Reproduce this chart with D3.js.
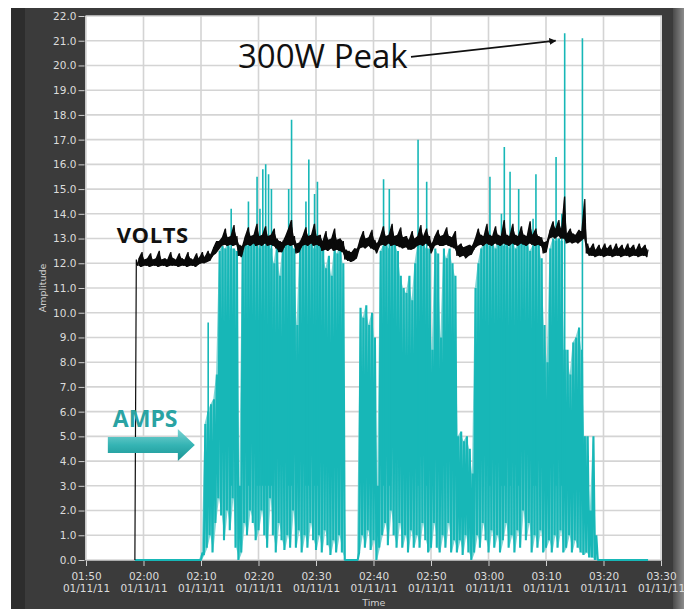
<!DOCTYPE html>
<html><head><meta charset="utf-8">
<script src="https://cdn.jsdelivr.net/npm/d3@7"></script>
<style>html,body{margin:0;padding:0;background:#fff;} svg{display:block}</style>
</head><body><svg id="c" width="693" height="609"></svg>
<script>
// ---------------- DATA ----------------
const xTickLabels = ["01:50","02:00","02:10","02:20","02:30","02:40","02:50","03:00","03:10","03:20","03:30"];
const dateLabel = "01/11/11";
const yTicks = [0,1,2,3,4,5,6,7,8,9,10,11,12,13,14,15,16,17,18,19,20,21,22];
const sampleStart = "01/11/11 01:58:30";   // first logged sample
const sampleStepSec = 30;                  // one [min,max] pair per 30 s
// VOLTS: [min, max] per 30 s
const volts = [
 [0,12.15],[11.9,12.2],[11.85,12.45],[11.9,12.15],[11.9,12.2],[11.85,12.4],[11.9,12.15],[11.9,12.2],[11.85,12.5],[11.9,12.15],
 [11.9,12.2],[11.85,12.15],[11.9,12.45],[11.9,12.2],[11.9,12.15],[11.85,12.4],[11.9,12.2],[11.9,12.15],[11.85,12.45],[11.9,12.2],
 [11.9,12.15],[11.85,12.4],[11.95,12.2],[12.0,12.45],[12.0,12.25],[12.05,12.5],[12.1,12.35],
 [12.3,12.65],[12.4,12.9],[12.55,12.9],
 [12.7,13.05],[12.75,13.4],[12.7,13.05],[12.75,13.1],[12.7,13.55],[12.75,13.1],
 [12.3,12.75],[12.25,12.7],
 [12.7,13.1],[12.75,13.45],[12.7,13.1],[12.8,13.15],[12.7,13.6],[12.75,13.1],[12.7,13.15],[12.8,13.5],[12.7,13.1],[12.75,13.15],[12.7,13.4],[12.6,13.0],
 [12.45,12.9],[12.45,12.85],
 [12.7,13.1],[12.75,13.4],[12.7,13.75],[12.75,13.1],
 [12.4,12.8],[12.45,12.85],
 [12.7,13.1],[12.75,13.45],[12.7,13.1],[12.8,13.15],[12.7,13.6],[12.75,13.1],[12.7,13.15],
 [12.5,12.9],[12.55,13.3],[12.5,12.95],[12.6,13.0],[12.5,13.4],[12.55,12.95],[12.5,13.0],[12.45,12.9],
 [12.15,12.55],[12.1,12.5],[12.05,12.45],[12.1,12.6],[12.2,12.6],
 [12.6,13.0],[12.65,13.3],[12.6,13.0],[12.7,13.05],[12.6,13.35],[12.55,12.95],
 [12.4,12.8],
 [12.7,13.1],[12.75,13.5],[12.7,13.1],[12.8,13.15],[12.7,13.6],[12.75,13.1],[12.7,13.15],[12.65,13.45],[12.6,13.05],[12.65,13.1],
 [12.55,12.95],[12.55,13.3],[12.6,13.0],
 [12.7,13.1],[12.75,13.55],[12.7,13.1],[12.8,13.4],[12.7,13.1],
 [12.4,12.8],
 [12.7,13.1],[12.75,13.35],[12.7,13.1],[12.7,13.15],[12.75,13.45],[12.7,13.1],[12.65,13.05],[12.6,13.3],
 [12.3,12.7],[12.25,12.8],[12.3,12.65],[12.2,12.7],[12.3,12.75],[12.35,12.7],
 [12.6,13.0],[12.7,13.4],[12.75,13.15],[12.7,13.1],[12.8,13.6],[12.75,13.15],[12.7,13.1],[12.8,13.5],[12.75,13.15],[12.7,13.1],
 [12.8,13.75],[12.75,13.15],[12.7,13.1],[12.8,13.6],[12.75,13.15],[12.7,13.1],[12.8,13.5],[12.75,13.15],[12.7,13.1],[12.8,13.7],
 [12.75,13.15],[12.7,13.4],[12.75,13.1],[12.7,13.05],
 [12.4,12.85],[12.45,12.9],
 [13.0,13.35],[13.05,13.7],[13.0,13.4],[13.1,13.75],[13.0,13.4],
 [13.0,14.7],
 [12.8,13.2],[12.85,13.4],[12.8,13.2],[12.85,13.15],[12.8,13.35],[12.9,13.3],
 [13.0,14.6],
 [12.4,12.8],[12.3,12.6],[12.3,12.8],[12.25,12.55],[12.3,12.75],[12.3,12.55],[12.25,12.8],[12.3,12.6],[12.3,12.75],[12.25,12.55],
 [12.3,12.8],[12.3,12.6],[12.25,12.75],[12.3,12.55],[12.3,12.8],[12.25,12.6],[12.3,12.75],[12.3,12.55],[12.25,12.8],[12.3,12.6],
 [12.3,12.75],[12.25,12.55]
];
// AMPS: [min, max of the dense body] per 30 s
const amps = [
 [0,0],[0,0],[0,0],[0,0],[0,0],[0,0],[0,0],[0,0],[0,0],[0,0],
 [0,0],[0,0],[0,0],[0,0],[0,0],[0,0],[0,0],[0,0],[0,0],[0,0],
 [0,0],[0,0],[0,0],
 [0,0.3],[0.2,5.5],[0.5,6.0],[1.0,6.3],[0.3,6.5],[1.5,7.5],[2.5,12.5],[1.8,12.7],[0.8,12.6],[2.0,12.8],
 [1.2,12.6],[2.5,12.6],[0.5,12.5],[0,3.0],[0.3,12.5],[1.5,13.0],[1.0,12.7],[2.0,12.9],[1.5,13.0],[0.8,12.8],
 [1.2,12.6],[2.0,12.9],[1.0,12.7],[0.5,12.8],[2.5,12.6],[1.0,12.0],[0.3,12.8],[1.5,11.5],[0.8,12.6],[0.4,13.0],
 [1.0,12.8],[0.5,12.7],[2.0,12.6],[0.5,9.5],[1.2,12.8],[0.3,13.0],[1.0,12.9],[0.5,12.7],[1.5,12.8],[0.8,12.6],
 [0.4,12.8],[1.0,13.0],[0.3,12.6],[1.2,11.8],[0.6,12.3],[0.2,11.5],[0.8,12.6],[0.3,12.4],[1.0,12.8],[0.3,12.0],
 [0,0],[0,0],[0,0],[0,0],[0,0],[0.3,10.2],[1.0,9.8],[0.5,10.3],[1.2,9.5],[0.4,10.0],
 [0.8,9.0],[0,3.0],[0.5,12.5],[1.0,12.7],[1.5,12.8],[0.6,12.6],[2.0,13.0],[1.0,12.8],[0.5,12.5],[1.5,11.5],
 [0.5,11.0],[1.0,10.8],[0.3,11.5],[1.2,10.5],[0.5,12.0],[1.0,12.8],[0.5,13.0],[1.5,12.8],[0.8,12.6],[0.3,12.6],
 [0.5,8.5],[1.5,12.6],[0.5,12.4],[0.3,9.0],[1.0,12.6],[0.5,12.2],[1.5,12.6],[0.3,12.0],[0.8,11.5],[0.3,5.0],
 [0.8,5.2],[0.2,4.8],[1.0,5.0],[0.3,4.5],[0,3.5],[0.3,11.0],[1.0,12.0],[0.5,12.6],[1.5,12.8],[0.8,12.8],
 [0.3,12.7],[1.2,13.0],[0.5,12.6],[1.0,13.0],[0.3,12.9],[0.8,12.7],[1.5,12.8],[0.5,12.6],[1.0,13.0],[0.3,12.6],
 [1.2,12.8],[0.5,13.0],[2.0,12.8],[0.8,13.0],[1.5,12.5],[0.3,12.7],[1.0,12.8],[0.5,12.8],[1.2,12.2],[0.3,9.5],
 [0.5,8.0],[0.8,12.6],[0.3,13.0],[1.0,12.9],[0.5,13.0],[1.2,12.9],[0.3,8.5],[0.5,8.5],[1.0,7.5],[0.3,8.8],
 [0.8,9.0],[0.5,9.4],[0.3,8.5],[0.2,5.0],[0.3,5.0],[0.1,2.0],[0.1,5.0],[0,1.0],
 [0,0],[0,0],[0,0],[0,0],[0,0],[0,0],[0,0],[0,0],[0,0],[0,0],
 [0,0],[0,0],[0,0],[0,0],[0,0],[0,0],[0,0],[0,0]
];
// AMPS: isolated current spikes [time, peak]
const ampsPeaks = [
 ["02:11:15",9.6],["02:15:15",14.2],["02:18:15",14.5],["02:19:45",15.5],["02:20:15",14.2],["02:20:45",15.8],
 ["02:21:15",16.0],["02:21:45",15.6],["02:22:15",15.0],["02:25:15",15.0],["02:25:45",17.8],["02:28:15",14.5],
 ["02:28:45",16.2],["02:29:45",14.8],["02:30:15",15.3],["02:41:45",15.4],["02:42:45",15.0],["02:47:45",17.0],
 ["02:49:15",15.3],["03:00:15",15.5],["03:02:15",14.0],["03:02:45",16.7],["03:03:45",15.7],["03:05:15",15.0],
 ["03:07:45",13.8],["03:08:15",15.6],["03:11:45",16.3],["03:12:45",14.0],["03:13:15",21.3],["03:16:20",21.1]
];
// annotation anchors (time, value)
const peakNote = {text:"300W Peak", at:["01/11/11 02:16:26", 19.9], tip:["01/11/11 03:11:40", 21.0]};
const voltsNote = {text:"VOLTS", at:["01/11/11 01:55:20", 12.82]};
const ampsNote = {text:"AMPS", at:["01/11/11 01:54:40", 5.38]};

// ---------------- CHART ----------------
const parse = d3.timeParse("%m/%d/%y %H:%M:%S");
const parseTick = s => parse(dateLabel + " " + s + ":00");
const svg = d3.select("#c");
const L = 85.5, R = 662, T = 16, B = 560;
const x = d3.scaleTime().domain([parseTick(xTickLabels[0]), parseTick(xTickLabels[xTickLabels.length-1])]).range([86, 661]);
const y = d3.scaleLinear().domain([0, 22]).range([B, T]);

// frame
const defs = svg.append("defs");
const sh = defs.append("linearGradient").attr("id","shadow").attr("x1",0).attr("x2",1).attr("y1",0).attr("y2",0);
sh.append("stop").attr("offset",0).attr("stop-color","#4a4a4a");
sh.append("stop").attr("offset",1).attr("stop-color","#8c8c8c");
svg.append("rect").attr("x",11).attr("y",8).attr("width",662).attr("height",601).attr("fill","#3b3b3b");
svg.append("rect").attr("x",11).attr("y",8).attr("width",14).attr("height",601).attr("fill","#2d2d2d");
svg.append("rect").attr("x",673).attr("y",8).attr("width",11).attr("height",601).attr("fill","url(#shadow)");
svg.append("rect").attr("x",L).attr("y",T).attr("width",R-L).attr("height",B-T).attr("fill","#fff");

defs.append("clipPath").attr("id","plot").append("rect").attr("x",L).attr("y",T-2).attr("width",R-L).attr("height",B-T+4);

// grid
const xTicks = xTickLabels.map(parseTick);
const grid = svg.append("g").attr("stroke","#d4d4d4").attr("stroke-width",1.6);
grid.selectAll("line.h").data(yTicks).join("line").attr("class","h")
  .attr("x1",L).attr("x2",R).attr("y1",d=>y(d)).attr("y2",d=>y(d));
grid.selectAll("line.v").data(xTicks).join("line").attr("class","v")
  .attr("x1",d=>x(d)).attr("x2",d=>x(d)).attr("y1",T).attr("y2",B);

// axes
const font = "'DejaVu Sans', Verdana, sans-serif";
const yAxis = svg.append("g").attr("transform",`translate(${L-1},0)`)
  .call(d3.axisLeft(y).tickValues(yTicks).tickFormat(d3.format(".1f")).tickSize(6).tickPadding(2));
yAxis.select(".domain").remove();
yAxis.selectAll("line").attr("stroke","#cfcfcf");
yAxis.selectAll("text").attr("fill","#dcdcdc").style("font-family",font).style("font-size","10.5px");

const xAxis = svg.append("g").attr("transform",`translate(0,${B+1})`)
  .call(d3.axisBottom(x).tickValues(xTicks).tickSize(5).tickFormat(""));
xAxis.select(".domain").remove();
xAxis.selectAll("line").attr("stroke","#cfcfcf");
xAxis.selectAll(".tick").each(function(d,i){
  const g = d3.select(this);
  g.append("text").attr("y",19).attr("text-anchor","middle").attr("fill","#dcdcdc")
    .style("font-family",font).style("font-size","10.5px").text(xTickLabels[i]);
  g.append("text").attr("y",31).attr("text-anchor","middle").attr("fill","#dcdcdc")
    .style("font-family",font).style("font-size","10.5px").text(dateLabel);
});
svg.append("text").attr("x",(L+R)/2).attr("y",606).attr("text-anchor","middle").attr("fill","#d0d0d0")
  .style("font-family",font).style("font-size","9.5px").text("Time");
svg.append("text").attr("transform",`translate(46,${(T+B)/2}) rotate(-90)`).attr("text-anchor","middle")
  .attr("fill","#d0d0d0").style("font-family",font).style("font-size","9.5px").text("Amplitude");

// series as min/max decimated traces
const TEAL = "#17b7b7";
const t0 = parse(sampleStart);
const tAt = (i, f) => new Date(t0.getTime() + (i + f)*sampleStepSec*1000);
const trace = data => data.flatMap((d,i)=>[[tAt(i,0), d[0]], [tAt(i,0.5), d[1]]]);
const line = d3.line().x(d=>x(d[0])).y(d=>y(d[1]));
const band = off => d3.area().x((d,i)=>x(tAt(i+off,0.25))).y0(d=>y(d[0])).y1(d=>y(d[1]));
const plot = svg.append("g").attr("clip-path","url(#plot)");
// amps
plot.append("path").attr("d", band(0)(amps)).attr("fill","#7ed5d5");
plot.append("path").attr("d", line(trace(amps))).attr("fill","none").attr("stroke",TEAL)
  .attr("stroke-width",2.1).attr("stroke-linejoin","bevel");
plot.selectAll("line.peak").data(ampsPeaks).join("line").attr("class","peak")
  .attr("x1",d=>x(parse(dateLabel+" "+d[0]))).attr("x2",d=>x(parse(dateLabel+" "+d[0])))
  .attr("y1",y(3)).attr("y2",d=>y(d[1])).attr("stroke",TEAL).attr("stroke-width",1.6);
// volts
plot.append("path").attr("d", band(1)(volts.slice(1))).attr("fill","#0a0a0a");
plot.append("path").attr("d", line(trace(volts))).attr("fill","none").attr("stroke","#0a0a0a").attr("stroke-width",1.2);

// annotations
const px = a => [x(parse(a[0])), y(a[1])];
const annFont = "'Open Sans', 'Liberation Sans', sans-serif";
const va = px(voltsNote.at);
svg.append("text").attr("x",va[0]).attr("y",va[1]).attr("fill","#111").style("font-family",annFont)
  .style("font-weight","700").style("font-size","22px").style("letter-spacing","0.6px").text(voltsNote.text);

const pa = px(peakNote.at), pt = px(peakNote.tip);
svg.append("text").attr("x",pa[0]).attr("y",pa[1]).attr("fill","#111").style("font-family",annFont)
  .style("font-size","33px").text(peakNote.text);
defs.append("marker").attr("id","ah").attr("viewBox","0 0 10 10").attr("refX",9).attr("refY",5)
  .attr("markerWidth",7).attr("markerHeight",7).attr("orient","auto").attr("markerUnits","userSpaceOnUse")
  .append("path").attr("d","M0,0 L10,5 L0,10 Z").attr("fill","#111");
svg.append("line").attr("x1",pa[0]+173).attr("y1",pa[1]-11).attr("x2",pt[0]).attr("y2",pt[1])
  .attr("stroke","#111").attr("stroke-width",1.8).attr("marker-end","url(#ah)");

const aa = px(ampsNote.at);
const ag = defs.append("linearGradient").attr("id","arrowGrad").attr("x1",0).attr("x2",0).attr("y1",0).attr("y2",1);
ag.append("stop").attr("offset",0).attr("stop-color","#7fd3d3");
ag.append("stop").attr("offset",0.5).attr("stop-color","#35b4b4");
ag.append("stop").attr("offset",1).attr("stop-color","#1a9393");
svg.append("text").attr("x",aa[0]).attr("y",aa[1]).attr("fill","#2aa3a3").style("font-family",annFont)
  .style("font-weight","700").style("font-size","23px").text(ampsNote.text);
const ax0 = aa[0]-5, ay = aa[1]+18;
svg.append("path").attr("fill","url(#arrowGrad)")
  .attr("d",`M${ax0},${ay-8} L${ax0+70},${ay-8} L${ax0+70},${ay-16} L${ax0+87},${ay} L${ax0+70},${ay+16} L${ax0+70},${ay+8} L${ax0},${ay+8} Z`);
</script>
</body></html>
